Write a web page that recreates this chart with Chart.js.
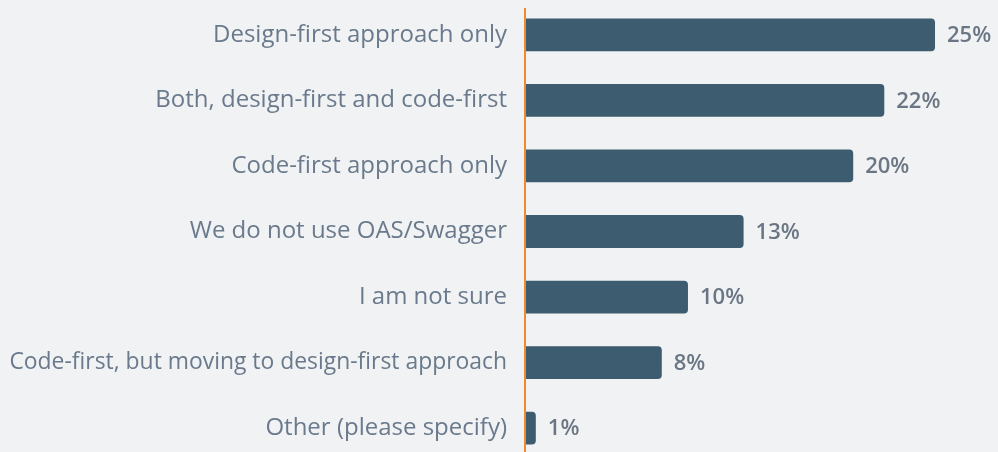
<!DOCTYPE html>
<html>
<head>
<meta charset="utf-8">
<script src="https://cdn.jsdelivr.net/npm/chart.js@4/dist/chart.umd.min.js"></script>
<style>
	html, body { margin: 0; padding: 0; background: #f0f2f4; overflow: hidden; }
	#wrap { width: 998px; height: 452px; overflow: hidden; }
</style>
</head>
<body>
<div id="wrap"><canvas id="chart" width="998" height="461"></canvas></div>
<script>
const categories = [
	'Design-first approach only',
	'Both, design-first and code-first',
	'Code-first approach only',
	'We do not use OAS/Swagger',
	'I am not sure',
	'Code-first, but moving to design-first approach',
	'Other (please specify)',
]
const shares = [25, 21.9, 20, 13.3, 9.9, 8.3, 0.6]
const shareLabels = ['25%', '22%', '20%', '13%', '10%', '8%', '1%']

const barColor = '#3e5c70'
const axisColor = '#f08a2c'
const labelColor = '#6a7a8c'
const valueColor = '#6b7684'

// orange zero line, starts a little below the top of the plot
const zeroLine = {
	id: 'zeroLine',
	afterDatasetsDraw(chart) {
		const { ctx, chartArea, scales } = chart
		const x = scales.x.getPixelForValue(0)
		ctx.save()
		ctx.strokeStyle = axisColor
		ctx.lineWidth = 2
		ctx.beginPath()
		ctx.moveTo(x - 1, chartArea.top + 6)
		ctx.lineTo(x - 1, chartArea.bottom)
		ctx.stroke()
		ctx.restore()
	}
}

// percentage text right of each bar
const valueLabels = {
	id: 'valueLabels',
	afterDatasetsDraw(chart) {
		const { ctx } = chart
		const meta = chart.getDatasetMeta(0)
		ctx.save()
		ctx.font = '600 22px "Open Sans"'
		ctx.fillStyle = valueColor
		ctx.textAlign = 'left'
		ctx.textBaseline = 'middle'
		meta.data.forEach((bar, i) => {
			ctx.fillText(shareLabels[i], bar.x + 12, bar.y + 1)
		})
		ctx.restore()
	}
}

let canvas = document.getElementById('chart')
let ctx = canvas.getContext('2d')
new Chart(ctx, {
	type: 'bar',
	data: {
		labels: categories,
		datasets: [{
			data: shares,
			backgroundColor: barColor,
			borderRadius: 4,
			borderSkipped: 'start',
			barPercentage: 0.5,
			categoryPercentage: 1,
		}]
	},
	plugins: [zeroLine, valueLabels],
	options: {
		indexAxis: 'y',
		responsive: false,
		animation: false,
		layout: {
			padding: { top: 2, right: 0, bottom: 0, left: 0 }
		},
		scales: {
			x: {
				display: false,
				min: 0,
				max: 28.85,
			},
			y: {
				afterFit: (scale) => {
					// fixed axis width, no extra room above/below for the labels
					scale.width = 526
					scale.paddingTop = 0
					scale.paddingBottom = 0
				},
				border: { display: false },
				grid: { display: false, drawTicks: false },
				ticks: {
					color: labelColor,
					padding: 19,
					// the long label is set a touch smaller so it fits
					font: (c) => ({ family: 'Open Sans', size: categories[c.index] && categories[c.index].length > 40 ? 22.9 : 24 }),
				}
			}
		},
		plugins: {
			legend: { display: false },
			tooltip: { enabled: false },
		}
	}
})
canvas = null
</script>
</body>
</html>
